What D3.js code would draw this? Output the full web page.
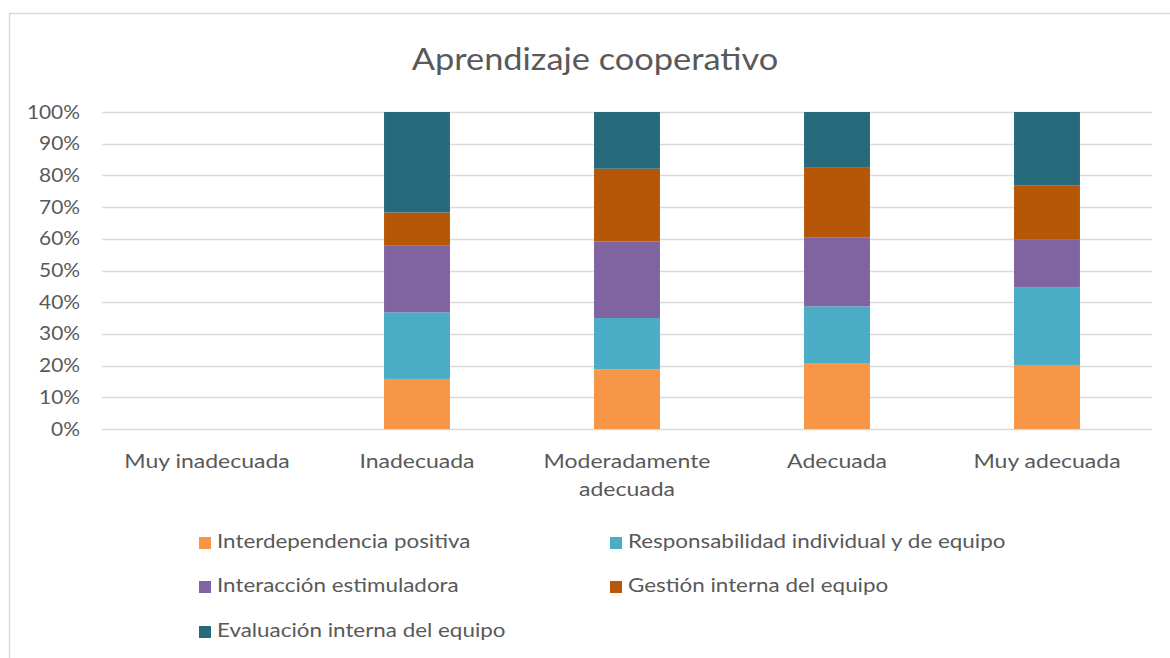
<!DOCTYPE html>
<html>
<head>
<meta charset="utf-8">
<script src="https://cdn.jsdelivr.net/npm/d3@7"></script>
<style>
  html, body { margin: 0; padding: 0; background: #fff; }
  svg { display: block; font-family: Lato, "Open Sans", sans-serif; }
</style>
</head>
<body>
<svg id="chart" width="1170" height="658"></svg>
<script>
const title = "Aprendizaje cooperativo";
const categories = ["Muy inadecuada", "Inadecuada", "Moderadamente adecuada", "Adecuada", "Muy adecuada"];
const seriesNames = ["Interdependencia positiva", "Responsabilidad individual y de equipo", "Interacción estimuladora", "Gestión interna del equipo", "Evaluación interna del equipo"];
const interdependencia = [0, 15.8, 18.8, 20.6, 20.2];
const responsabilidad  = [0, 21.0, 16.2, 18.1, 24.4];
const interaccion      = [0, 21.0, 24.1, 21.8, 15.3];
const gestion          = [0, 10.5, 23.0, 21.9, 17.0];
const evaluacion       = [0, 31.7, 17.9, 17.6, 23.1];
const colors = ["#F79646", "#4BACC6", "#8064A2", "#B65708", "#276A7C"];
const yTicks = [0, 0.1, 0.2, 0.3, 0.4, 0.5, 0.6, 0.7, 0.8, 0.9, 1.0];

const seriesValues = [interdependencia, responsabilidad, interaccion, gestion, evaluacion];
const rows = categories.map((c, i) => {
  const r = { cat: c };
  const tot = d3.sum(seriesValues, s => s[i]);
  seriesNames.forEach((n, j) => r[n] = tot > 0 ? seriesValues[j][i] / tot : 0);
  return r;
});
const stacked = d3.stack().keys(seriesNames)(rows);

const svg = d3.select("#chart");
const textColor = "#595959";

// chart border
svg.append("rect").attr("x", 9.5).attr("y", 13.5).attr("width", 1200).attr("height", 700)
  .attr("fill", "#fff").attr("stroke", "#D9D9D9").attr("stroke-width", 1.5);

const x = d3.scaleBand().domain(categories).range([102, 1152]).paddingInner(0.686).paddingOuter(0.343);
const y = d3.scaleLinear().domain([0, 1]).range([429, 112]);

// title
svg.append("text").attr("transform", "translate(595,70) scale(1.11,1)").attr("text-anchor", "middle")
  .attr("fill", textColor).attr("font-size", 31).text(title);

// gridlines
svg.append("g").selectAll("line").data(yTicks).join("line")
  .attr("x1", 102).attr("x2", 1152)
  .attr("y1", d => Math.round(y(d)) + 0.5).attr("y2", d => Math.round(y(d)) + 0.5)
  .attr("stroke", "#D9D9D9").attr("stroke-width", 1.5);

// y axis labels
const yAxis = d3.axisLeft(y).tickValues(yTicks).tickFormat(d3.format(".0%")).tickSize(0).tickPadding(0);
const gy = svg.append("g").attr("transform", "translate(80,0)").call(yAxis);
gy.select(".domain").remove();
gy.selectAll("text").attr("fill", textColor).attr("font-size", 19).attr("font-family", "Lato, sans-serif")
  .attr("x", 0).attr("transform", "scale(1.1,1)");

// bars
svg.append("g").selectAll("g").data(stacked).join("g")
  .attr("fill", (d, i) => colors[i])
  .selectAll("rect").data(d => d).join("rect")
  .attr("x", d => x(d.data.cat))
  .attr("width", x.bandwidth())
  .attr("y", d => y(d[1]))
  .attr("height", d => y(d[0]) - y(d[1]));

// x labels
const xAxis = d3.axisBottom(x).tickSize(0).tickPadding(0);
const gx = svg.append("g").attr("transform", "translate(0,448)").call(xAxis);
gx.select(".domain").remove();
gx.selectAll("text").attr("fill", textColor).attr("font-size", 20).attr("font-family", "Lato, sans-serif")
  .attr("transform", "scale(1.15,1)")
  .each(function(d) {
    const t = d3.select(this);
    t.text(null).attr("dy", null).attr("y", 0);
    const lines = d === "Moderadamente adecuada" ? ["Moderadamente", "adecuada"] : [d];
    lines.forEach((ln, k) => {
      t.append("tspan").attr("x", 0).attr("y", 20 + k * 28).text(ln);
    });
  });

// legend
const legendPos = [
  [199, 543], [610, 543],
  [199, 587], [610, 587],
  [199, 632]
];
const lg = svg.append("g").selectAll("g").data(seriesNames).join("g")
  .attr("transform", (d, i) => `translate(${legendPos[i][0]},${legendPos[i][1]})`);
lg.append("rect").attr("x", 0).attr("y", -6).attr("width", 12).attr("height", 12)
  .attr("fill", (d, i) => colors[i]);
lg.append("text").attr("transform", "translate(18,0) scale(1.12,1)").attr("dominant-baseline", "middle")
  .attr("fill", textColor).attr("font-size", 20).text(d => d);
</script>
</body>
</html>
